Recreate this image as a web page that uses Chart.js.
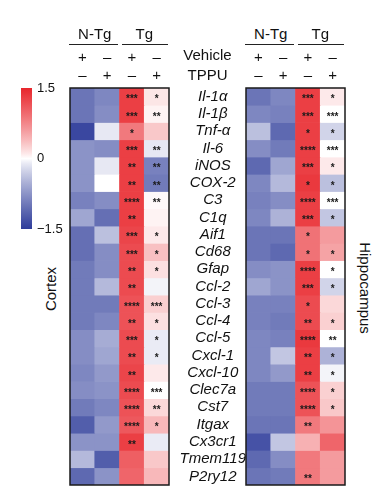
<!DOCTYPE html>
<html>
<head>
<meta charset="utf-8">
<script src="https://cdn.jsdelivr.net/npm/chart.js@4.4.1/dist/chart.umd.min.js"></script>
<style>
  html, body { margin:0; padding:0; background:#fff; }
  #wrap { position:relative; width:380px; height:499px; background:#fff; overflow:hidden;
          font-family:'Liberation Sans', Arial, Helvetica, sans-serif; color:#111; }
  .abs { position:absolute; }
  .t { position:absolute; transform:translate(-50%,-50%); line-height:1; white-space:nowrap; font-size:15px; }
  .line { position:absolute; height:1.5px; background:#222; }
</style>
</head>
<body>
<div id="wrap">
  <div class="abs" style="left:20px;top:78px;width:50px;height:162px;"><canvas id="cbar" width="50" height="162"></canvas></div>
  <div class="abs" style="left:69px;top:87px;width:101px;height:399px;"><canvas id="cortex" width="101" height="399"></canvas></div>
  <div class="abs" style="left:168px;top:87px;width:178px;height:399px;"><canvas id="hippo" width="178" height="399"></canvas></div>
  <div id="labels"></div>
</div>
<script>
// ---------- data ----------
const genes = ['Il-1α','Il-1β','Tnf-α','Il-6','iNOS','COX-2','C3','C1q','Aif1','Cd68','Gfap','Ccl-2','Ccl-3','Ccl-4','Ccl-5','Cxcl-1','Cxcl-10','Clec7a','Cst7','Itgax','Cx3cr1','Tmem119','P2ry12'];
const columns = ['N-Tg Vehicle','N-Tg TPPU','Tg Vehicle','Tg TPPU'];
const groups = ['N-Tg','Tg'];
const vehicleMarks = ['+','–','+','–'];
const tppuMarks = ['–','+','–','+'];
const treatments = ['Vehicle','TPPU'];
const regions = ['Cortex','Hippocampus'];
const colorTicks = [-1.5, 0, 1.5];

// Cortex z-scores (one array per column)
const cortexNTgVeh  = [-1.0,-1.0,-1.4,-0.75,-0.75,-0.75,-0.9,-0.6,-1.05,-1.05,-0.95,-0.95,-0.95,-0.95,-0.8,-0.8,-0.85,-0.8,-0.95,-1.2,-0.75,-0.45,-1.1];
const cortexNTgTPPU = [-0.85,-0.8,-0.12,-0.8,-0.12,0.0,-0.8,-1.05,-0.4,-0.8,-0.8,-0.45,-0.95,-0.85,-0.55,-0.6,-0.7,-0.75,-0.85,-0.7,-0.75,-1.2,-0.75];
const cortexTgVeh   = [1.3,1.3,0.85,1.3,1.3,1.3,1.3,1.3,1.25,1.2,1.2,1.2,1.15,1.15,1.2,1.2,1.25,1.2,1.15,1.1,1.3,1.05,1.0];
const cortexTgTPPU  = [0.12,0.05,0.3,-0.12,-0.9,-0.95,0.02,0.05,0.1,0.35,0.15,-0.05,0.25,0.15,-0.1,-0.1,0.1,0.0,0.2,0.4,-0.1,0.3,0.4];
const cortexStarsVeh  = ['***','***','*','***','**','**','****','**','***','***','**','**','****','**','***','**','**','****','****','****','**','',''];
const cortexStarsTPPU = ['*','**','','**','**','**','**','','*','*','*','','***','*','*','*','','***','**','*','','',''];

// Hippocampus z-scores
const hippoNTgVeh  = [-1.0,-0.85,-0.4,-0.8,-1.1,-0.85,-0.9,-0.85,-1.0,-1.0,-0.8,-0.6,-0.9,-0.9,-0.85,-0.85,-0.85,-0.95,-0.95,-1.0,-1.3,-1.1,-1.0];
const hippoNTgTPPU = [-0.85,-0.9,-1.1,-0.95,-0.6,-0.45,-0.8,-0.5,-1.0,-1.1,-0.75,-0.75,-0.9,-0.95,-0.9,-0.35,-0.7,-0.95,-0.95,-1.0,-0.35,-0.8,-0.95];
const hippoTgVeh   = [1.3,1.3,1.3,1.3,1.3,1.35,1.3,1.3,0.9,0.9,1.3,1.3,1.2,1.2,1.35,1.3,1.3,1.15,1.15,0.85,0.45,0.85,0.85];
const hippoTgTPPU  = [0.1,0.0,-0.25,0.0,0.1,-0.4,0.0,-0.35,0.6,0.55,0.0,-0.25,0.2,0.25,0.0,-0.5,-0.05,0.25,0.3,0.65,1.0,0.6,0.6];
const hippoStarsVeh  = ['***','***','*','****','***','*','****','***','*','*','****','***','*','**','****','**','**','****','****','**','','','**'];
const hippoStarsTPPU = ['*','***','*','***','*','*','***','*','','*','*','*','','*','**','*','*','*','*','','','',''];

// ---------- colour map ----------
const RED = [232, 38, 44];
const BLUE = [46, 60, 154];
function cmap(v) {
  const t = Math.max(-1, Math.min(1, v / 1.5));
  const end = t >= 0 ? RED : BLUE;
  const a = Math.pow(Math.abs(t), 0.85);
  const c = end.map(e => Math.round(255 + (e - 255) * a));
  return `rgb(${c[0]},${c[1]},${c[2]})`;
}

Chart.defaults.font.family = "'Liberation Sans', Arial, Helvetica, sans-serif";
Chart.defaults.color = '#111';
Chart.defaults.animation = false;

// ---------- plugins ----------
const frame = {
  id: 'frame',
  afterDatasetsDraw(chart) {
    const a = chart.chartArea, ctx = chart.ctx;
    ctx.save();
    ctx.strokeStyle = '#1a1a1a';
    ctx.lineWidth = 1.5;
    ctx.strokeRect(a.left, a.top, a.right - a.left, a.bottom - a.top);
    ctx.restore();
  }
};
const starPlugin = {
  id: 'stars',
  afterDatasetsDraw(chart, args, opts) {
    const ctx = chart.ctx, xs = chart.scales.x, ys = chart.scales.y;
    ctx.save();
    ctx.fillStyle = '#1a1a1a';
    ctx.font = "bold 10px 'Liberation Sans', Arial, sans-serif";
    ctx.textAlign = 'center';
    ctx.textBaseline = 'middle';
    opts.cols.forEach(({col, stars}) => {
      stars.forEach((s, r) => {
        if (!s) return;
        ctx.fillText(s, xs.getPixelForValue(col), ys.getPixelForValue(r + 0.5) + 3);
      });
    });
    ctx.restore();
  }
};

function makeHeat(id, cols, starCols, showGenes) {
  const datasets = genes.map((g, r) => ({
    label: g,
    data: cols.map(() => [r, r + 1]),
    backgroundColor: cols.map(c => cmap(c[r])),
    borderWidth: 0,
    barPercentage: 1,
    categoryPercentage: 1,
    grouped: false
  }));
  new Chart(document.getElementById(id), {
    type: 'bar',
    data: { labels: columns, datasets },
    options: {
      responsive: false,
      animation: false,
      layout: { padding: { top: 1, bottom: 1, left: showGenes ? 0 : 1, right: 1 } },
      plugins: { legend: { display: false }, tooltip: { enabled: false },
                 stars: { cols: starCols } },
      scales: {
        x: { display: false },
        y: {
          type: 'linear', min: 0, max: genes.length, reverse: true,
          display: showGenes, position: 'left',
          grid: { display: false, drawTicks: false }, border: { display: false },
          afterBuildTicks: ax => { ax.ticks = genes.map((g, i) => ({ value: i + 0.5 })); },
          afterFit: ax => {
            if (showGenes) { ax.width = 78; } else { ax.width = 0; }
            ax.paddingTop = 0; ax.paddingBottom = 0;
          },
          ticks: {
            autoSkip: false, padding: 0, crossAlign: 'center',
            font: { size: 15, style: 'italic' }, color: '#111',
            callback: v => genes[Math.floor(v)]
          }
        }
      }
    },
    plugins: [starPlugin, frame]
  });
}

makeHeat('cortex', [cortexNTgVeh, cortexNTgTPPU, cortexTgVeh, cortexTgTPPU],
  [{col: 2, stars: cortexStarsVeh}, {col: 3, stars: cortexStarsTPPU}], false);
makeHeat('hippo', [hippoNTgVeh, hippoNTgTPPU, hippoTgVeh, hippoTgTPPU],
  [{col: 2, stars: hippoStarsVeh}, {col: 3, stars: hippoStarsTPPU}], true);

// colour bar
new Chart(document.getElementById('cbar'), {
  type: 'bar',
  data: { labels: [''], datasets: [{
    data: [[colorTicks[0], colorTicks[colorTicks.length - 1]]],
    backgroundColor: ctx => {
      const a = ctx.chart.chartArea;
      if (!a) return '#fff';
      const g = ctx.chart.ctx.createLinearGradient(0, a.bottom, 0, a.top);
      for (let k = 0; k <= 30; k++) g.addColorStop(k / 30, cmap(-1.5 + 3 * k / 30));
      return g;
    },
    borderWidth: 0, barPercentage: 1, categoryPercentage: 1
  }] },
  options: {
    responsive: false, animation: false,
    layout: { padding: { top: 10, bottom: 11, left: 1, right: 0 } },
    plugins: { legend: { display: false }, tooltip: { enabled: false } },
    scales: {
      x: { display: false },
      y: {
        position: 'right', min: -1.5, max: 1.5,
        grid: { display: false, drawTicks: false }, border: { display: false },
        afterBuildTicks: ax => { ax.ticks = colorTicks.map(v => ({ value: v })); },
        afterFit: ax => { ax.width = 38; ax.paddingTop = 0; ax.paddingBottom = 0; },
        ticks: { padding: 5, font: { size: 13 }, color: '#111',
                 callback: v => v < 0 ? '−' + Math.abs(v) : String(v) }
      }
    }
  }
});

// ---------- header / side labels (HTML text) ----------
const L = document.getElementById('labels');
function txt(s, x, y, extra) {
  const d = document.createElement('div');
  d.className = 't'; d.textContent = s;
  d.style.left = x + 'px'; d.style.top = y + 'px';
  if (extra) Object.assign(d.style, extra);
  L.appendChild(d);
}
function line(x1, x2, y) {
  const d = document.createElement('div');
  d.className = 'line';
  d.style.left = x1 + 'px'; d.style.width = (x2 - x1) + 'px'; d.style.top = y + 'px';
  L.appendChild(d);
}
const panels = [{ left: 70, right: 169 }, { left: 246, right: 345 }];
panels.forEach(p => {
  const w = (p.right - p.left) / 4;
  groups.forEach((g, gi) => {
    const cx = p.left + w * (2 * gi + 1);
    txt(g, cx, 33);
    line(p.left + w * 2 * gi + (gi ? 2 : -1), p.left + w * 2 * (gi + 1) - (gi ? 1 : 2), 43.5);
  });
  for (let c = 0; c < 4; c++) {
    const cx = p.left + w * (c + 0.5);
    txt(vehicleMarks[c], cx, 56);
    txt(tppuMarks[c], cx, 74);
  }
});
txt(treatments[0], 207.5, 54);
txt(treatments[1], 207.5, 74);
txt(regions[0], 50, 289, { transform: 'translate(-50%,-50%) rotate(-90deg)' });
txt(regions[1], 365, 288, { transform: 'translate(-50%,-50%) rotate(90deg)' });
</script>
</body>
</html>
